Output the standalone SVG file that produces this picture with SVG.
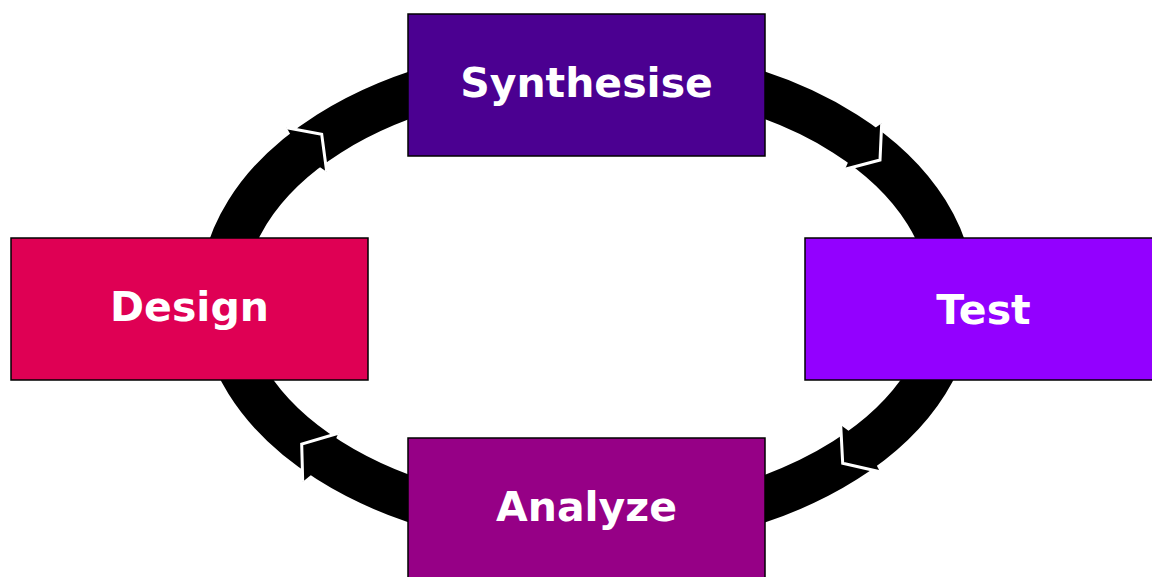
<svg xmlns="http://www.w3.org/2000/svg" width="1152" height="577" viewBox="0 0 1152 577">
<style>
.box{stroke:#000;stroke-width:1.5}
.lbl{font-family:"DejaVu Sans",sans-serif;font-weight:bold;font-size:41px;fill:#fff;text-anchor:middle}
.head{fill:#000}
.edge{fill:none;stroke:#fff;stroke-width:3;stroke-linejoin:miter}
</style>
<rect width="1152" height="577" fill="#fff"/>
<g id="connectors">
<ellipse cx="587" cy="297" rx="365" ry="231" fill="none" stroke="#000" stroke-width="45"/>
<polygon class="head" points="321.7,134.3 286.7,127.7 302,155 326.7,171.7"/>
<polyline class="edge" points="286.7,127.7 321.7,134.3 326.7,171.7"/>
<polygon class="head" points="880,160 881.7,123.3 858,140 845,169.3"/>
<polyline class="edge" points="881.7,123.3 880,160 845,169.3"/>
<polygon class="head" points="842.7,463.3 840.7,425 865,443 880,471.7"/>
<polyline class="edge" points="840.7,425 842.7,463.3 880,471.7"/>
<polygon class="head" points="301.7,444 338.3,433.3 326,463 302.7,481.7"/>
<polyline class="edge" points="338.3,433.3 301.7,444 302.7,481.7"/>
</g>
<g id="synthesise">
<rect class="box" x="408" y="14" width="357" height="142" fill="#4b0091"/>
<text class="lbl" x="586.5" y="97">Synthesise</text>
</g>
<g id="test">
<rect class="box" x="805" y="238" width="357" height="142" fill="#9300ff"/>
<text class="lbl" x="983.5" y="324">Test</text>
</g>
<g id="analyze">
<rect class="box" x="408" y="438" width="357" height="142" fill="#960086"/>
<text class="lbl" x="586.5" y="520.5">Analyze</text>
</g>
<g id="design">
<rect class="box" x="11" y="238" width="357" height="142" fill="#df0054"/>
<text class="lbl" x="189.5" y="321">Design</text>
</g>
</svg>
